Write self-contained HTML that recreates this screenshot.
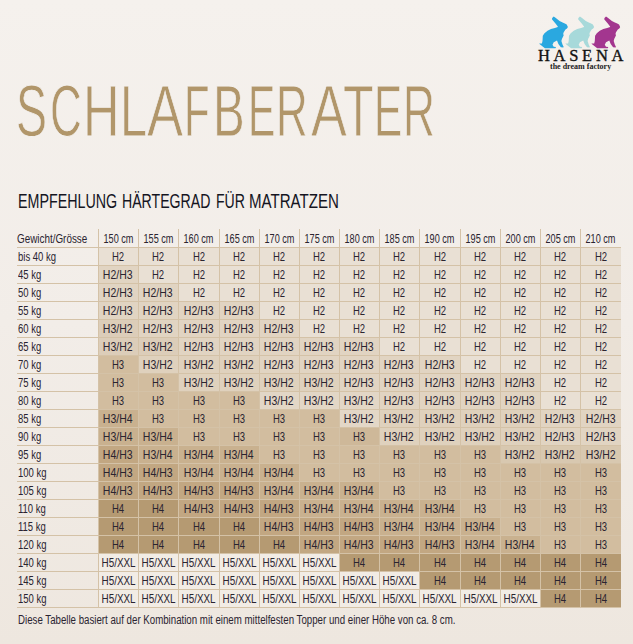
<!DOCTYPE html>
<html><head><meta charset="utf-8"><style>
html,body{margin:0;padding:0}
body{width:633px;height:644px;overflow:hidden;position:relative;background:linear-gradient(180deg,#f5f1ed 0%,#f2ede8 50%,#eee7df 100%);font-family:"Liberation Sans",sans-serif}
.t{position:absolute;left:16px;top:71px;font-size:72px;line-height:80px;color:#b1966a;white-space:nowrap;transform-origin:0 0;-webkit-text-stroke:0.8px #f4f1ee;paint-order:normal}
.st{position:absolute;left:19px;top:190px;font-size:19.5px;line-height:22px;color:#15151f;white-space:nowrap;transform-origin:0 0}
.c{position:absolute;height:18px;line-height:18px;text-align:center;font-size:12.5px;color:#2a2430;white-space:nowrap}
.c span{display:inline-block;position:relative;top:1px;transform:scaleX(0.76)}
.h{background:transparent}
.h span{transform:scaleX(0.73)}
.s span{transform:scaleX(0.84)}
.x span{transform:scaleX(0.79);left:-1px}
.l{position:absolute;left:18px;height:18px;line-height:18px;font-size:12.5px;color:#2a2430;white-space:nowrap}
.l span{display:inline-block;position:relative;top:1px;transform:scaleX(0.76);transform-origin:0 0}
.hl{position:absolute;left:17px;width:604px;height:1px;background:#d4c2a7}
.vl{position:absolute;top:229px;height:379px;width:1px;background:#d4c2a7}
.ft{position:absolute;left:18px;top:612px;font-size:12.5px;line-height:16px;color:#2a2430;white-space:nowrap;transform:scaleX(0.775);transform-origin:0 0}
.logo{position:absolute;left:536px;top:12px;width:92px;height:40px}
.hs{position:absolute;left:538px;top:46.5px;-webkit-text-stroke:0.35px #111;font-family:"Liberation Serif",serif;font-size:16.5px;line-height:18px;letter-spacing:3.7px;color:#111}
.df{position:absolute;left:550px;top:61.5px;font-family:"Liberation Serif",serif;font-weight:bold;font-size:8px;line-height:10px;color:#222}
</style></head><body>
<div class="t" style="left:15.90px;transform:scaleX(0.646)">S</div><div class="t" style="left:50.02px;transform:scaleX(0.609)">C</div><div class="t" style="left:83.02px;transform:scaleX(0.700)">H</div><div class="t" style="left:119.69px;transform:scaleX(0.674)">L</div><div class="t" style="left:146.50px;transform:scaleX(0.751)">A</div><div class="t" style="left:184.47px;transform:scaleX(0.582)">F</div><div class="t" style="left:212.88px;transform:scaleX(0.660)">B</div><div class="t" style="left:248.07px;transform:scaleX(0.568)">E</div><div class="t" style="left:276.00px;transform:scaleX(0.609)">R</div><div class="t" style="left:310.60px;transform:scaleX(0.746)">A</div><div class="t" style="left:342.63px;transform:scaleX(0.695)">T</div><div class="t" style="left:374.05px;transform:scaleX(0.586)">E</div><div class="t" style="left:403.27px;transform:scaleX(0.614)">R</div>
<div class="st" style="left:18.40px;transform:scaleX(0.732)">EMPFEHLUNG</div><div class="st" style="left:121.51px;transform:scaleX(0.724)">HÄRTEGRAD</div><div class="st" style="left:216.22px;transform:scaleX(0.723)">FÜR</div><div class="st" style="left:249.04px;transform:scaleX(0.773)">MATRATZEN</div>
<div class="c" style="left:98px;top:247px;width:40px;background:#e9e0d4"><span>H2</span></div>
<div class="c" style="left:138px;top:247px;width:40px;background:#e9e0d4"><span>H2</span></div>
<div class="c" style="left:178px;top:247px;width:41px;background:#e9e0d4"><span>H2</span></div>
<div class="c" style="left:219px;top:247px;width:40px;background:#e9e0d4"><span>H2</span></div>
<div class="c" style="left:259px;top:247px;width:40px;background:#e9e0d4"><span>H2</span></div>
<div class="c" style="left:299px;top:247px;width:40px;background:#e9e0d4"><span>H2</span></div>
<div class="c" style="left:339px;top:247px;width:40px;background:#e9e0d4"><span>H2</span></div>
<div class="c" style="left:379px;top:247px;width:40px;background:#e9e0d4"><span>H2</span></div>
<div class="c" style="left:419px;top:247px;width:41px;background:#e9e0d4"><span>H2</span></div>
<div class="c" style="left:460px;top:247px;width:40px;background:#e9e0d4"><span>H2</span></div>
<div class="c" style="left:500px;top:247px;width:40px;background:#e9e0d4"><span>H2</span></div>
<div class="c" style="left:540px;top:247px;width:40px;background:#e9e0d4"><span>H2</span></div>
<div class="c" style="left:580px;top:247px;width:41px;background:#e9e0d4"><span>H2</span></div>
<div class="c s" style="left:98px;top:265px;width:40px;background:#e1d4c2"><span>H2/H3</span></div>
<div class="c" style="left:138px;top:265px;width:40px;background:#e9e0d4"><span>H2</span></div>
<div class="c" style="left:178px;top:265px;width:41px;background:#e9e0d4"><span>H2</span></div>
<div class="c" style="left:219px;top:265px;width:40px;background:#e9e0d4"><span>H2</span></div>
<div class="c" style="left:259px;top:265px;width:40px;background:#e9e0d4"><span>H2</span></div>
<div class="c" style="left:299px;top:265px;width:40px;background:#e9e0d4"><span>H2</span></div>
<div class="c" style="left:339px;top:265px;width:40px;background:#e9e0d4"><span>H2</span></div>
<div class="c" style="left:379px;top:265px;width:40px;background:#e9e0d4"><span>H2</span></div>
<div class="c" style="left:419px;top:265px;width:41px;background:#e9e0d4"><span>H2</span></div>
<div class="c" style="left:460px;top:265px;width:40px;background:#e9e0d4"><span>H2</span></div>
<div class="c" style="left:500px;top:265px;width:40px;background:#e9e0d4"><span>H2</span></div>
<div class="c" style="left:540px;top:265px;width:40px;background:#e9e0d4"><span>H2</span></div>
<div class="c" style="left:580px;top:265px;width:41px;background:#e9e0d4"><span>H2</span></div>
<div class="c s" style="left:98px;top:283px;width:40px;background:#e1d4c2"><span>H2/H3</span></div>
<div class="c s" style="left:138px;top:283px;width:40px;background:#e1d4c2"><span>H2/H3</span></div>
<div class="c" style="left:178px;top:283px;width:41px;background:#e9e0d4"><span>H2</span></div>
<div class="c" style="left:219px;top:283px;width:40px;background:#e9e0d4"><span>H2</span></div>
<div class="c" style="left:259px;top:283px;width:40px;background:#e9e0d4"><span>H2</span></div>
<div class="c" style="left:299px;top:283px;width:40px;background:#e9e0d4"><span>H2</span></div>
<div class="c" style="left:339px;top:283px;width:40px;background:#e9e0d4"><span>H2</span></div>
<div class="c" style="left:379px;top:283px;width:40px;background:#e9e0d4"><span>H2</span></div>
<div class="c" style="left:419px;top:283px;width:41px;background:#e9e0d4"><span>H2</span></div>
<div class="c" style="left:460px;top:283px;width:40px;background:#e9e0d4"><span>H2</span></div>
<div class="c" style="left:500px;top:283px;width:40px;background:#e9e0d4"><span>H2</span></div>
<div class="c" style="left:540px;top:283px;width:40px;background:#e9e0d4"><span>H2</span></div>
<div class="c" style="left:580px;top:283px;width:41px;background:#e9e0d4"><span>H2</span></div>
<div class="c s" style="left:98px;top:301px;width:40px;background:#e1d4c2"><span>H2/H3</span></div>
<div class="c s" style="left:138px;top:301px;width:40px;background:#e1d4c2"><span>H2/H3</span></div>
<div class="c s" style="left:178px;top:301px;width:41px;background:#e1d4c2"><span>H2/H3</span></div>
<div class="c s" style="left:219px;top:301px;width:40px;background:#e1d4c2"><span>H2/H3</span></div>
<div class="c" style="left:259px;top:301px;width:40px;background:#e9e0d4"><span>H2</span></div>
<div class="c" style="left:299px;top:301px;width:40px;background:#e9e0d4"><span>H2</span></div>
<div class="c" style="left:339px;top:301px;width:40px;background:#e9e0d4"><span>H2</span></div>
<div class="c" style="left:379px;top:301px;width:40px;background:#e9e0d4"><span>H2</span></div>
<div class="c" style="left:419px;top:301px;width:41px;background:#e9e0d4"><span>H2</span></div>
<div class="c" style="left:460px;top:301px;width:40px;background:#e9e0d4"><span>H2</span></div>
<div class="c" style="left:500px;top:301px;width:40px;background:#e9e0d4"><span>H2</span></div>
<div class="c" style="left:540px;top:301px;width:40px;background:#e9e0d4"><span>H2</span></div>
<div class="c" style="left:580px;top:301px;width:41px;background:#e9e0d4"><span>H2</span></div>
<div class="c s" style="left:98px;top:319px;width:40px;background:#dccdb9"><span>H3/H2</span></div>
<div class="c s" style="left:138px;top:319px;width:40px;background:#e1d4c2"><span>H2/H3</span></div>
<div class="c s" style="left:178px;top:319px;width:41px;background:#e1d4c2"><span>H2/H3</span></div>
<div class="c s" style="left:219px;top:319px;width:40px;background:#e1d4c2"><span>H2/H3</span></div>
<div class="c s" style="left:259px;top:319px;width:40px;background:#e1d4c2"><span>H2/H3</span></div>
<div class="c" style="left:299px;top:319px;width:40px;background:#e9e0d4"><span>H2</span></div>
<div class="c" style="left:339px;top:319px;width:40px;background:#e9e0d4"><span>H2</span></div>
<div class="c" style="left:379px;top:319px;width:40px;background:#e9e0d4"><span>H2</span></div>
<div class="c" style="left:419px;top:319px;width:41px;background:#e9e0d4"><span>H2</span></div>
<div class="c" style="left:460px;top:319px;width:40px;background:#e9e0d4"><span>H2</span></div>
<div class="c" style="left:500px;top:319px;width:40px;background:#e9e0d4"><span>H2</span></div>
<div class="c" style="left:540px;top:319px;width:40px;background:#e9e0d4"><span>H2</span></div>
<div class="c" style="left:580px;top:319px;width:41px;background:#e9e0d4"><span>H2</span></div>
<div class="c s" style="left:98px;top:337px;width:40px;background:#dccdb9"><span>H3/H2</span></div>
<div class="c s" style="left:138px;top:337px;width:40px;background:#dccdb9"><span>H3/H2</span></div>
<div class="c s" style="left:178px;top:337px;width:41px;background:#e1d4c2"><span>H2/H3</span></div>
<div class="c s" style="left:219px;top:337px;width:40px;background:#e1d4c2"><span>H2/H3</span></div>
<div class="c s" style="left:259px;top:337px;width:40px;background:#e1d4c2"><span>H2/H3</span></div>
<div class="c s" style="left:299px;top:337px;width:40px;background:#e1d4c2"><span>H2/H3</span></div>
<div class="c s" style="left:339px;top:337px;width:40px;background:#e1d4c2"><span>H2/H3</span></div>
<div class="c" style="left:379px;top:337px;width:40px;background:#e9e0d4"><span>H2</span></div>
<div class="c" style="left:419px;top:337px;width:41px;background:#e9e0d4"><span>H2</span></div>
<div class="c" style="left:460px;top:337px;width:40px;background:#e9e0d4"><span>H2</span></div>
<div class="c" style="left:500px;top:337px;width:40px;background:#e9e0d4"><span>H2</span></div>
<div class="c" style="left:540px;top:337px;width:40px;background:#e9e0d4"><span>H2</span></div>
<div class="c" style="left:580px;top:337px;width:41px;background:#e9e0d4"><span>H2</span></div>
<div class="c" style="left:98px;top:355px;width:40px;background:#d2bd9f"><span>H3</span></div>
<div class="c s" style="left:138px;top:355px;width:40px;background:#dfd1bd"><span>H3/H2</span></div>
<div class="c s" style="left:178px;top:355px;width:41px;background:#dfd1bd"><span>H3/H2</span></div>
<div class="c s" style="left:219px;top:355px;width:40px;background:#dfd1bd"><span>H3/H2</span></div>
<div class="c s" style="left:259px;top:355px;width:40px;background:#e1d4c2"><span>H2/H3</span></div>
<div class="c s" style="left:299px;top:355px;width:40px;background:#e1d4c2"><span>H2/H3</span></div>
<div class="c s" style="left:339px;top:355px;width:40px;background:#e1d4c2"><span>H2/H3</span></div>
<div class="c s" style="left:379px;top:355px;width:40px;background:#e1d4c2"><span>H2/H3</span></div>
<div class="c s" style="left:419px;top:355px;width:41px;background:#e1d4c2"><span>H2/H3</span></div>
<div class="c" style="left:460px;top:355px;width:40px;background:#e9e0d4"><span>H2</span></div>
<div class="c" style="left:500px;top:355px;width:40px;background:#e9e0d4"><span>H2</span></div>
<div class="c" style="left:540px;top:355px;width:40px;background:#e9e0d4"><span>H2</span></div>
<div class="c" style="left:580px;top:355px;width:41px;background:#e9e0d4"><span>H2</span></div>
<div class="c" style="left:98px;top:373px;width:40px;background:#d2bd9f"><span>H3</span></div>
<div class="c" style="left:138px;top:373px;width:40px;background:#d2bd9f"><span>H3</span></div>
<div class="c s" style="left:178px;top:373px;width:41px;background:#dfd1bd"><span>H3/H2</span></div>
<div class="c s" style="left:219px;top:373px;width:40px;background:#dfd1bd"><span>H3/H2</span></div>
<div class="c s" style="left:259px;top:373px;width:40px;background:#dfd1bd"><span>H3/H2</span></div>
<div class="c s" style="left:299px;top:373px;width:40px;background:#dfd1bd"><span>H3/H2</span></div>
<div class="c s" style="left:339px;top:373px;width:40px;background:#e1d4c2"><span>H2/H3</span></div>
<div class="c s" style="left:379px;top:373px;width:40px;background:#e1d4c2"><span>H2/H3</span></div>
<div class="c s" style="left:419px;top:373px;width:41px;background:#e1d4c2"><span>H2/H3</span></div>
<div class="c s" style="left:460px;top:373px;width:40px;background:#e1d4c2"><span>H2/H3</span></div>
<div class="c s" style="left:500px;top:373px;width:40px;background:#e1d4c2"><span>H2/H3</span></div>
<div class="c" style="left:540px;top:373px;width:40px;background:#e9e0d4"><span>H2</span></div>
<div class="c" style="left:580px;top:373px;width:41px;background:#e9e0d4"><span>H2</span></div>
<div class="c" style="left:98px;top:391px;width:40px;background:#d2bd9f"><span>H3</span></div>
<div class="c" style="left:138px;top:391px;width:40px;background:#d2bd9f"><span>H3</span></div>
<div class="c" style="left:178px;top:391px;width:41px;background:#d2bd9f"><span>H3</span></div>
<div class="c" style="left:219px;top:391px;width:40px;background:#d2bd9f"><span>H3</span></div>
<div class="c s" style="left:259px;top:391px;width:40px;background:#e2d6c6"><span>H3/H2</span></div>
<div class="c s" style="left:299px;top:391px;width:40px;background:#e2d6c6"><span>H3/H2</span></div>
<div class="c s" style="left:339px;top:391px;width:40px;background:#e2d6c6"><span>H3/H2</span></div>
<div class="c s" style="left:379px;top:391px;width:40px;background:#e1d4c2"><span>H2/H3</span></div>
<div class="c s" style="left:419px;top:391px;width:41px;background:#e1d4c2"><span>H2/H3</span></div>
<div class="c s" style="left:460px;top:391px;width:40px;background:#e1d4c2"><span>H2/H3</span></div>
<div class="c s" style="left:500px;top:391px;width:40px;background:#e1d4c2"><span>H2/H3</span></div>
<div class="c" style="left:540px;top:391px;width:40px;background:#e9e0d4"><span>H2</span></div>
<div class="c" style="left:580px;top:391px;width:41px;background:#e9e0d4"><span>H2</span></div>
<div class="c s" style="left:98px;top:409px;width:40px;background:#c9b18f"><span>H3/H4</span></div>
<div class="c" style="left:138px;top:409px;width:40px;background:#d2bd9f"><span>H3</span></div>
<div class="c" style="left:178px;top:409px;width:41px;background:#d2bd9f"><span>H3</span></div>
<div class="c" style="left:219px;top:409px;width:40px;background:#d2bd9f"><span>H3</span></div>
<div class="c" style="left:259px;top:409px;width:40px;background:#d2bd9f"><span>H3</span></div>
<div class="c" style="left:299px;top:409px;width:40px;background:#d2bd9f"><span>H3</span></div>
<div class="c s" style="left:339px;top:409px;width:40px;background:#e3d7c7"><span>H3/H2</span></div>
<div class="c s" style="left:379px;top:409px;width:40px;background:#dfd1bd"><span>H3/H2</span></div>
<div class="c s" style="left:419px;top:409px;width:41px;background:#dfd1bd"><span>H3/H2</span></div>
<div class="c s" style="left:460px;top:409px;width:40px;background:#dfd1bd"><span>H3/H2</span></div>
<div class="c s" style="left:500px;top:409px;width:40px;background:#dfd1bd"><span>H3/H2</span></div>
<div class="c s" style="left:540px;top:409px;width:40px;background:#e1d4c2"><span>H2/H3</span></div>
<div class="c s" style="left:580px;top:409px;width:41px;background:#e1d4c2"><span>H2/H3</span></div>
<div class="c s" style="left:98px;top:427px;width:40px;background:#c9b18f"><span>H3/H4</span></div>
<div class="c s" style="left:138px;top:427px;width:40px;background:#c9b18f"><span>H3/H4</span></div>
<div class="c" style="left:178px;top:427px;width:41px;background:#d2bd9f"><span>H3</span></div>
<div class="c" style="left:219px;top:427px;width:40px;background:#d2bd9f"><span>H3</span></div>
<div class="c" style="left:259px;top:427px;width:40px;background:#d2bd9f"><span>H3</span></div>
<div class="c" style="left:299px;top:427px;width:40px;background:#d2bd9f"><span>H3</span></div>
<div class="c" style="left:339px;top:427px;width:40px;background:#ceb899"><span>H3</span></div>
<div class="c s" style="left:379px;top:427px;width:40px;background:#dfd1bd"><span>H3/H2</span></div>
<div class="c s" style="left:419px;top:427px;width:41px;background:#dfd1bd"><span>H3/H2</span></div>
<div class="c s" style="left:460px;top:427px;width:40px;background:#dfd1bd"><span>H3/H2</span></div>
<div class="c s" style="left:500px;top:427px;width:40px;background:#dfd1bd"><span>H3/H2</span></div>
<div class="c s" style="left:540px;top:427px;width:40px;background:#e1d4c2"><span>H2/H3</span></div>
<div class="c s" style="left:580px;top:427px;width:41px;background:#e1d4c2"><span>H2/H3</span></div>
<div class="c s" style="left:98px;top:445px;width:40px;background:#c2a782"><span>H4/H3</span></div>
<div class="c s" style="left:138px;top:445px;width:40px;background:#c9b18f"><span>H3/H4</span></div>
<div class="c s" style="left:178px;top:445px;width:41px;background:#c9b18f"><span>H3/H4</span></div>
<div class="c s" style="left:219px;top:445px;width:40px;background:#c9b18f"><span>H3/H4</span></div>
<div class="c" style="left:259px;top:445px;width:40px;background:#d2bd9f"><span>H3</span></div>
<div class="c" style="left:299px;top:445px;width:40px;background:#d2bd9f"><span>H3</span></div>
<div class="c" style="left:339px;top:445px;width:40px;background:#d2bd9f"><span>H3</span></div>
<div class="c" style="left:379px;top:445px;width:40px;background:#d2bd9f"><span>H3</span></div>
<div class="c" style="left:419px;top:445px;width:41px;background:#d2bd9f"><span>H3</span></div>
<div class="c" style="left:460px;top:445px;width:40px;background:#d2bd9f"><span>H3</span></div>
<div class="c s" style="left:500px;top:445px;width:40px;background:#d8c8b0"><span>H3/H2</span></div>
<div class="c s" style="left:540px;top:445px;width:40px;background:#d8c8b0"><span>H3/H2</span></div>
<div class="c s" style="left:580px;top:445px;width:41px;background:#d8c8b0"><span>H3/H2</span></div>
<div class="c s" style="left:98px;top:463px;width:40px;background:#c2a782"><span>H4/H3</span></div>
<div class="c s" style="left:138px;top:463px;width:40px;background:#c2a782"><span>H4/H3</span></div>
<div class="c s" style="left:178px;top:463px;width:41px;background:#c9b18f"><span>H3/H4</span></div>
<div class="c s" style="left:219px;top:463px;width:40px;background:#c9b18f"><span>H3/H4</span></div>
<div class="c s" style="left:259px;top:463px;width:40px;background:#c9b18f"><span>H3/H4</span></div>
<div class="c" style="left:299px;top:463px;width:40px;background:#d2bd9f"><span>H3</span></div>
<div class="c" style="left:339px;top:463px;width:40px;background:#d2bd9f"><span>H3</span></div>
<div class="c" style="left:379px;top:463px;width:40px;background:#d2bd9f"><span>H3</span></div>
<div class="c" style="left:419px;top:463px;width:41px;background:#d2bd9f"><span>H3</span></div>
<div class="c" style="left:460px;top:463px;width:40px;background:#d2bd9f"><span>H3</span></div>
<div class="c" style="left:500px;top:463px;width:40px;background:#d2bd9f"><span>H3</span></div>
<div class="c" style="left:540px;top:463px;width:40px;background:#d2bd9f"><span>H3</span></div>
<div class="c" style="left:580px;top:463px;width:41px;background:#d2bd9f"><span>H3</span></div>
<div class="c s" style="left:98px;top:481px;width:40px;background:#c2a782"><span>H4/H3</span></div>
<div class="c s" style="left:138px;top:481px;width:40px;background:#c2a782"><span>H4/H3</span></div>
<div class="c s" style="left:178px;top:481px;width:41px;background:#c2a782"><span>H4/H3</span></div>
<div class="c s" style="left:219px;top:481px;width:40px;background:#c2a782"><span>H4/H3</span></div>
<div class="c s" style="left:259px;top:481px;width:40px;background:#c9b18f"><span>H3/H4</span></div>
<div class="c s" style="left:299px;top:481px;width:40px;background:#c9b18f"><span>H3/H4</span></div>
<div class="c s" style="left:339px;top:481px;width:40px;background:#c9b18f"><span>H3/H4</span></div>
<div class="c" style="left:379px;top:481px;width:40px;background:#d2bd9f"><span>H3</span></div>
<div class="c" style="left:419px;top:481px;width:41px;background:#d2bd9f"><span>H3</span></div>
<div class="c" style="left:460px;top:481px;width:40px;background:#d2bd9f"><span>H3</span></div>
<div class="c" style="left:500px;top:481px;width:40px;background:#d2bd9f"><span>H3</span></div>
<div class="c" style="left:540px;top:481px;width:40px;background:#d2bd9f"><span>H3</span></div>
<div class="c" style="left:580px;top:481px;width:41px;background:#d2bd9f"><span>H3</span></div>
<div class="c" style="left:98px;top:499px;width:40px;background:#b59a72"><span>H4</span></div>
<div class="c" style="left:138px;top:499px;width:40px;background:#b59a72"><span>H4</span></div>
<div class="c s" style="left:178px;top:499px;width:41px;background:#c2a782"><span>H4/H3</span></div>
<div class="c s" style="left:219px;top:499px;width:40px;background:#c2a782"><span>H4/H3</span></div>
<div class="c s" style="left:259px;top:499px;width:40px;background:#c2a782"><span>H4/H3</span></div>
<div class="c s" style="left:299px;top:499px;width:40px;background:#c9b18f"><span>H3/H4</span></div>
<div class="c s" style="left:339px;top:499px;width:40px;background:#c9b18f"><span>H3/H4</span></div>
<div class="c s" style="left:379px;top:499px;width:40px;background:#c9b18f"><span>H3/H4</span></div>
<div class="c s" style="left:419px;top:499px;width:41px;background:#c9b18f"><span>H3/H4</span></div>
<div class="c" style="left:460px;top:499px;width:40px;background:#d2bd9f"><span>H3</span></div>
<div class="c" style="left:500px;top:499px;width:40px;background:#d2bd9f"><span>H3</span></div>
<div class="c" style="left:540px;top:499px;width:40px;background:#d2bd9f"><span>H3</span></div>
<div class="c" style="left:580px;top:499px;width:41px;background:#d2bd9f"><span>H3</span></div>
<div class="c" style="left:98px;top:517px;width:40px;background:#b59a72"><span>H4</span></div>
<div class="c" style="left:138px;top:517px;width:40px;background:#b59a72"><span>H4</span></div>
<div class="c" style="left:178px;top:517px;width:41px;background:#b59a72"><span>H4</span></div>
<div class="c" style="left:219px;top:517px;width:40px;background:#b59a72"><span>H4</span></div>
<div class="c s" style="left:259px;top:517px;width:40px;background:#c2a782"><span>H4/H3</span></div>
<div class="c s" style="left:299px;top:517px;width:40px;background:#c2a782"><span>H4/H3</span></div>
<div class="c s" style="left:339px;top:517px;width:40px;background:#c2a782"><span>H4/H3</span></div>
<div class="c s" style="left:379px;top:517px;width:40px;background:#c9b18f"><span>H3/H4</span></div>
<div class="c s" style="left:419px;top:517px;width:41px;background:#c9b18f"><span>H3/H4</span></div>
<div class="c s" style="left:460px;top:517px;width:40px;background:#c9b18f"><span>H3/H4</span></div>
<div class="c" style="left:500px;top:517px;width:40px;background:#d2bd9f"><span>H3</span></div>
<div class="c" style="left:540px;top:517px;width:40px;background:#d2bd9f"><span>H3</span></div>
<div class="c" style="left:580px;top:517px;width:41px;background:#d2bd9f"><span>H3</span></div>
<div class="c" style="left:98px;top:535px;width:40px;background:#b59a72"><span>H4</span></div>
<div class="c" style="left:138px;top:535px;width:40px;background:#b59a72"><span>H4</span></div>
<div class="c" style="left:178px;top:535px;width:41px;background:#b59a72"><span>H4</span></div>
<div class="c" style="left:219px;top:535px;width:40px;background:#b59a72"><span>H4</span></div>
<div class="c" style="left:259px;top:535px;width:40px;background:#b59a72"><span>H4</span></div>
<div class="c s" style="left:299px;top:535px;width:40px;background:#c2a782"><span>H4/H3</span></div>
<div class="c s" style="left:339px;top:535px;width:40px;background:#c2a782"><span>H4/H3</span></div>
<div class="c s" style="left:379px;top:535px;width:40px;background:#c2a782"><span>H4/H3</span></div>
<div class="c s" style="left:419px;top:535px;width:41px;background:#c2a782"><span>H4/H3</span></div>
<div class="c s" style="left:460px;top:535px;width:40px;background:#c9b18f"><span>H3/H4</span></div>
<div class="c s" style="left:500px;top:535px;width:40px;background:#c9b18f"><span>H3/H4</span></div>
<div class="c" style="left:540px;top:535px;width:40px;background:#d2bd9f"><span>H3</span></div>
<div class="c" style="left:580px;top:535px;width:41px;background:#d2bd9f"><span>H3</span></div>
<div class="c x" style="left:98px;top:553px;width:40px;background:#f2ece5"><span>H5/XXL</span></div>
<div class="c x" style="left:138px;top:553px;width:40px;background:#f2ece5"><span>H5/XXL</span></div>
<div class="c x" style="left:178px;top:553px;width:41px;background:#f2ece5"><span>H5/XXL</span></div>
<div class="c x" style="left:219px;top:553px;width:40px;background:#f2ece5"><span>H5/XXL</span></div>
<div class="c x" style="left:259px;top:553px;width:40px;background:#f2ece5"><span>H5/XXL</span></div>
<div class="c x" style="left:299px;top:553px;width:40px;background:#f2ece5"><span>H5/XXL</span></div>
<div class="c" style="left:339px;top:553px;width:40px;background:#b59a72"><span>H4</span></div>
<div class="c" style="left:379px;top:553px;width:40px;background:#b59a72"><span>H4</span></div>
<div class="c" style="left:419px;top:553px;width:41px;background:#b59a72"><span>H4</span></div>
<div class="c" style="left:460px;top:553px;width:40px;background:#b59a72"><span>H4</span></div>
<div class="c" style="left:500px;top:553px;width:40px;background:#b59a72"><span>H4</span></div>
<div class="c" style="left:540px;top:553px;width:40px;background:#b59a72"><span>H4</span></div>
<div class="c" style="left:580px;top:553px;width:41px;background:#b59a72"><span>H4</span></div>
<div class="c x" style="left:98px;top:571px;width:40px;background:#f2ece5"><span>H5/XXL</span></div>
<div class="c x" style="left:138px;top:571px;width:40px;background:#f2ece5"><span>H5/XXL</span></div>
<div class="c x" style="left:178px;top:571px;width:41px;background:#f2ece5"><span>H5/XXL</span></div>
<div class="c x" style="left:219px;top:571px;width:40px;background:#f2ece5"><span>H5/XXL</span></div>
<div class="c x" style="left:259px;top:571px;width:40px;background:#f2ece5"><span>H5/XXL</span></div>
<div class="c x" style="left:299px;top:571px;width:40px;background:#f2ece5"><span>H5/XXL</span></div>
<div class="c x" style="left:339px;top:571px;width:40px;background:#f2ece5"><span>H5/XXL</span></div>
<div class="c x" style="left:379px;top:571px;width:40px;background:#f2ece5"><span>H5/XXL</span></div>
<div class="c" style="left:419px;top:571px;width:41px;background:#b59a72"><span>H4</span></div>
<div class="c" style="left:460px;top:571px;width:40px;background:#b59a72"><span>H4</span></div>
<div class="c" style="left:500px;top:571px;width:40px;background:#b59a72"><span>H4</span></div>
<div class="c" style="left:540px;top:571px;width:40px;background:#b59a72"><span>H4</span></div>
<div class="c" style="left:580px;top:571px;width:41px;background:#b59a72"><span>H4</span></div>
<div class="c x" style="left:98px;top:589px;width:40px;background:#f2ece5"><span>H5/XXL</span></div>
<div class="c x" style="left:138px;top:589px;width:40px;background:#f2ece5"><span>H5/XXL</span></div>
<div class="c x" style="left:178px;top:589px;width:41px;background:#f2ece5"><span>H5/XXL</span></div>
<div class="c x" style="left:219px;top:589px;width:40px;background:#f2ece5"><span>H5/XXL</span></div>
<div class="c x" style="left:259px;top:589px;width:40px;background:#f2ece5"><span>H5/XXL</span></div>
<div class="c x" style="left:299px;top:589px;width:40px;background:#f2ece5"><span>H5/XXL</span></div>
<div class="c x" style="left:339px;top:589px;width:40px;background:#f2ece5"><span>H5/XXL</span></div>
<div class="c x" style="left:379px;top:589px;width:40px;background:#f2ece5"><span>H5/XXL</span></div>
<div class="c x" style="left:419px;top:589px;width:41px;background:#f2ece5"><span>H5/XXL</span></div>
<div class="c x" style="left:460px;top:589px;width:40px;background:#f2ece5"><span>H5/XXL</span></div>
<div class="c x" style="left:500px;top:589px;width:40px;background:#f2ece5"><span>H5/XXL</span></div>
<div class="c" style="left:540px;top:589px;width:40px;background:#b59a72"><span>H4</span></div>
<div class="c" style="left:580px;top:589px;width:41px;background:#b59a72"><span>H4</span></div>
<div class="c h" style="left:98.00px;top:229px;width:40.00px"><span>150 cm</span></div>
<div class="c h" style="left:138.00px;top:229px;width:40.00px"><span>155 cm</span></div>
<div class="c h" style="left:178.00px;top:229px;width:41.00px"><span>160 cm</span></div>
<div class="c h" style="left:219.00px;top:229px;width:40.00px"><span>165 cm</span></div>
<div class="c h" style="left:259.00px;top:229px;width:40.00px"><span>170 cm</span></div>
<div class="c h" style="left:299.00px;top:229px;width:40.00px"><span>175 cm</span></div>
<div class="c h" style="left:339.00px;top:229px;width:40.00px"><span>180 cm</span></div>
<div class="c h" style="left:379.00px;top:229px;width:40.00px"><span>185 cm</span></div>
<div class="c h" style="left:419.00px;top:229px;width:41.00px"><span>190 cm</span></div>
<div class="c h" style="left:460.00px;top:229px;width:40.00px"><span>195 cm</span></div>
<div class="c h" style="left:500.00px;top:229px;width:40.00px"><span>200 cm</span></div>
<div class="c h" style="left:540.00px;top:229px;width:40.00px"><span>205 cm</span></div>
<div class="c h" style="left:580.00px;top:229px;width:41.00px"><span>210 cm</span></div>
<div class="l" style="top:229px;left:17px"><span style="transform:scaleX(0.79)">Gewicht/Grösse</span></div>
<div class="l" style="top:247px"><span>bis 40 kg</span></div>
<div class="l" style="top:265px"><span>45 kg</span></div>
<div class="l" style="top:283px"><span>50 kg</span></div>
<div class="l" style="top:301px"><span>55 kg</span></div>
<div class="l" style="top:319px"><span>60 kg</span></div>
<div class="l" style="top:337px"><span>65 kg</span></div>
<div class="l" style="top:355px"><span>70 kg</span></div>
<div class="l" style="top:373px"><span>75 kg</span></div>
<div class="l" style="top:391px"><span>80 kg</span></div>
<div class="l" style="top:409px"><span>85 kg</span></div>
<div class="l" style="top:427px"><span>90 kg</span></div>
<div class="l" style="top:445px"><span>95 kg</span></div>
<div class="l" style="top:463px"><span>100 kg</span></div>
<div class="l" style="top:481px"><span>105 kg</span></div>
<div class="l" style="top:499px"><span>110 kg</span></div>
<div class="l" style="top:517px"><span>115 kg</span></div>
<div class="l" style="top:535px"><span>120 kg</span></div>
<div class="l" style="top:553px"><span>140 kg</span></div>
<div class="l" style="top:571px"><span>145 kg</span></div>
<div class="l" style="top:589px"><span>150 kg</span></div>
<div class="hl" style="top:247px"></div>
<div class="hl" style="top:265px"></div>
<div class="hl" style="top:283px"></div>
<div class="hl" style="top:301px"></div>
<div class="hl" style="top:319px"></div>
<div class="hl" style="top:337px"></div>
<div class="hl" style="top:355px"></div>
<div class="hl" style="top:373px"></div>
<div class="hl" style="top:391px"></div>
<div class="hl" style="top:409px"></div>
<div class="hl" style="top:427px"></div>
<div class="hl" style="top:445px"></div>
<div class="hl" style="top:463px"></div>
<div class="hl" style="top:481px"></div>
<div class="hl" style="top:499px"></div>
<div class="hl" style="top:517px"></div>
<div class="hl" style="top:535px"></div>
<div class="hl" style="top:553px"></div>
<div class="hl" style="top:571px"></div>
<div class="hl" style="top:589px"></div>
<div class="hl" style="top:607px"></div>
<div class="vl" style="left:98px"></div>
<div class="vl" style="left:138px"></div>
<div class="vl" style="left:178px"></div>
<div class="vl" style="left:219px"></div>
<div class="vl" style="left:259px"></div>
<div class="vl" style="left:299px"></div>
<div class="vl" style="left:339px"></div>
<div class="vl" style="left:379px"></div>
<div class="vl" style="left:419px"></div>
<div class="vl" style="left:460px"></div>
<div class="vl" style="left:500px"></div>
<div class="vl" style="left:540px"></div>
<div class="vl" style="left:580px"></div>
<div class="ft">Diese Tabelle basiert auf der Kombination mit einem mittelfesten Topper und einer Höhe von ca. 8 cm.</div>
<svg class="logo" viewBox="0 0 92 40" width="92" height="40">
<g transform="translate(0,0.8)"><path fill="#2aa8e0" d="M17.7,3.8 L19.5,5 L23.6,8.3 L26.6,9.7 L28.9,10.6 L30.7,11.8 L31.9,14.2 L31,15.6 L29.5,16.8 L27.7,19.5 L27.2,21.3 L27.7,22.4 L26.9,24.2 L26,26 L25.4,28.3 L26.6,31.9 L27.7,34.2 L27.2,34.8 L24.8,34.5 L22.4,31.3 L21,27.7 L17.7,29.5 L16.5,31.9 L17.7,33.9 L20,34.2 L19.5,35.4 L8.9,35.4 L3.5,31.3 L3.2,30.7 L5.9,30.7 L6.5,28.3 L6.8,23 L8.5,20.5 L11.5,18 L15,16.2 L18.9,15.2 L21.8,14.2 L21.8,13.6 L19.5,10.6 L15.9,6.5 L16.2,5.3 Z"/></g>
<g transform="translate(26.2,0.8)"><path fill="#a7d9da" d="M17.7,3.8 L19.5,5 L23.6,8.3 L26.6,9.7 L28.9,10.6 L30.7,11.8 L31.9,14.2 L31,15.6 L29.5,16.8 L27.7,19.5 L27.2,21.3 L27.7,22.4 L26.9,24.2 L26,26 L25.4,28.3 L26.6,31.9 L27.7,34.2 L27.2,34.8 L24.8,34.5 L22.4,31.3 L21,27.7 L17.7,29.5 L16.5,31.9 L17.7,33.9 L20,34.2 L19.5,35.4 L8.9,35.4 L3.5,31.3 L3.2,30.7 L5.9,30.7 L6.5,28.3 L6.8,23 L8.5,20.5 L11.5,18 L15,16.2 L18.9,15.2 L21.8,14.2 L21.8,13.6 L19.5,10.6 L15.9,6.5 L16.2,5.3 Z"/></g>
<g transform="translate(52.3,0.8)"><path fill="#a3368f" d="M17.7,3.8 L19.5,5 L23.6,8.3 L26.6,9.7 L28.9,10.6 L30.7,11.8 L31.9,14.2 L31,15.6 L29.5,16.8 L27.7,19.5 L27.2,21.3 L27.7,22.4 L26.9,24.2 L26,26 L25.4,28.3 L26.6,31.9 L27.7,34.2 L27.2,34.8 L24.8,34.5 L22.4,31.3 L21,27.7 L17.7,29.5 L16.5,31.9 L17.7,33.9 L20,34.2 L19.5,35.4 L8.9,35.4 L3.5,31.3 L3.2,30.7 L5.9,30.7 L6.5,28.3 L6.8,23 L8.5,20.5 L11.5,18 L15,16.2 L18.9,15.2 L21.8,14.2 L21.8,13.6 L19.5,10.6 L15.9,6.5 L16.2,5.3 Z"/></g>
</svg>
<div class="hs">HASENA</div>
<div class="df">the dream factory</div>
</body></html>
